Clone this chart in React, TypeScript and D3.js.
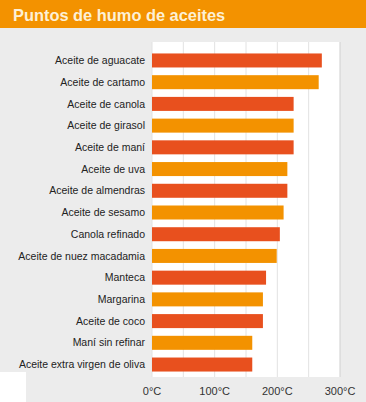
import React from "react";
import * as d3 from "d3";

const W = 366;
const H = 402;

const title = "Puntos de humo de aceites";
const categories = [
  "Aceite de aguacate",
  "Aceite de cartamo",
  "Aceite de canola",
  "Aceite de girasol",
  "Aceite de maní",
  "Aceite de uva",
  "Aceite de almendras",
  "Aceite de sesamo",
  "Canola refinado",
  "Aceite de nuez macadamia",
  "Manteca",
  "Margarina",
  "Aceite de coco",
  "Maní sin refinar",
  "Aceite extra virgen de oliva",
];
const values = [271, 266, 226, 226, 226, 216, 216, 210, 204, 199, 182, 177, 177, 160, 160];
const gridValues = [0, 50, 100, 150, 200, 250, 300];
const tickValues = [0, 100, 200, 300];
const tickLabels = ["0°C", "100°C", "200°C", "300°C"];
const colors = ["#e8501e", "#f39200"];

export default function App() {
  const x = d3.scaleLinear().domain([0, 300]).range([152, 340]);
  const y = d3
    .scaleBand<string>()
    .domain(categories)
    .range([42.6, 382.4])
    .paddingInner(0.355)
    .paddingOuter(0.5);
  const font = "'Liberation Sans', Arial, Helvetica, sans-serif";
  return (
    <svg
      width={W}
      height={H}
      style={{ position: "absolute", left: 0, top: 0, display: "block" }}
      fontFamily={font}
    >
      <rect x={0} y={0} width={W} height={H} fill="#ececec" />
      <rect x={0} y={0} width={W} height={28} fill="#f39200" />
      <text x={13} y={20.5} fill="#fdf0d5" fontSize={16.4} fontWeight="bold">
        {title}
      </text>
      <rect x={x(0)} y={42} width={x(300) - x(0)} height={335} fill="#ffffff" />
      <rect x={0} y={372} width={26} height={30} fill="#ffffff" />
      {gridValues.map((g) => (
        <line
          key={g}
          x1={x(g)}
          x2={x(g)}
          y1={42}
          y2={377}
          stroke={g === 300 ? "#cfcfcf" : "#e2e2e2"}
          strokeWidth={1}
        />
      ))}
      {categories.map((c, i) => (
        <g key={c}>
          <rect
            x={x(0)}
            y={y(c)}
            width={x(values[i]) - x(0)}
            height={y.bandwidth()}
            fill={colors[i % 2]}
          />
          <text
            x={145}
            y={(y(c) as number) + y.bandwidth() / 2}
            dy="0.35em"
            textAnchor="end"
            fontSize={10.5}
            fill="#222"
          >
            {c}
          </text>
        </g>
      ))}
      {tickValues.map((t, i) => (
        <text
          key={t}
          x={x(t)}
          y={395}
          textAnchor="middle"
          fontSize={11}
          fill="#333"
        >
          {tickLabels[i]}
        </text>
      ))}
    </svg>
  );
}
